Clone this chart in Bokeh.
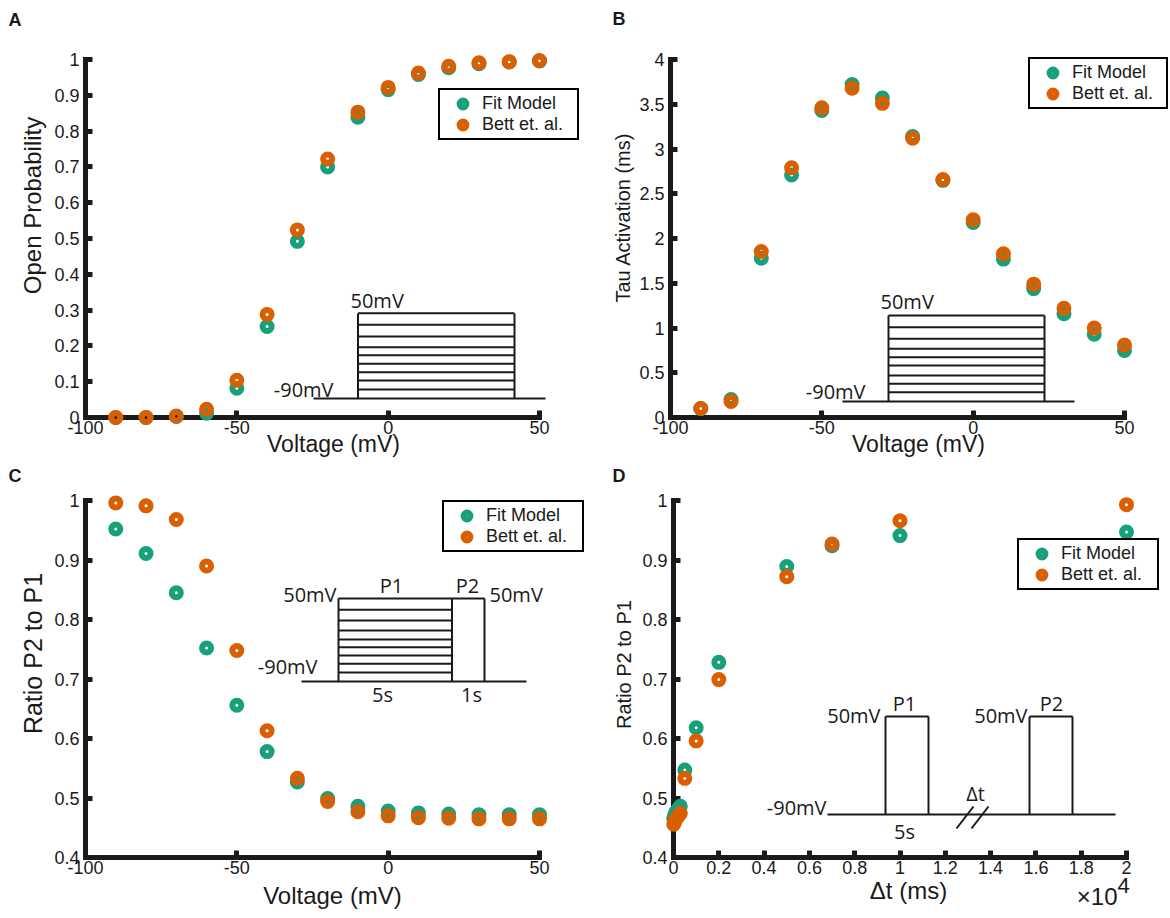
import numpy as np
from bokeh.plotting import figure
from bokeh.models import Range1d, FixedTicker, Label, Legend, LegendItem
from bokeh.layouts import column, row
from bokeh.embed import file_html
from bokeh.resources import INLINE

# ---------------- data ----------------
voltage = [-90, -80, -70, -60, -50, -40, -30, -20, -10, 0, 10, 20, 30, 40, 50]

a_fit = [0.0, 0.0, 0.003, 0.012, 0.082, 0.254, 0.492, 0.700, 0.839, 0.916, 0.958, 0.977, 0.988, 0.993, 0.996]
a_bett = [0.0, 0.0, 0.004, 0.023, 0.104, 0.288, 0.524, 0.722, 0.853, 0.922, 0.962, 0.981, 0.991, 0.994, 0.997]

b_fit = [0.10, 0.20, 1.78, 2.71, 3.43, 3.72, 3.57, 3.14, 2.65, 2.18, 1.77, 1.44, 1.16, 0.93, 0.75]
b_bett = [0.10, 0.18, 1.855, 2.79, 3.46, 3.68, 3.51, 3.12, 2.66, 2.21, 1.83, 1.49, 1.22, 1.00, 0.81]

c_fit = [0.952, 0.911, 0.845, 0.752, 0.656, 0.578, 0.527, 0.499, 0.486, 0.478, 0.475, 0.473, 0.472, 0.472, 0.472]
c_bett = [0.996, 0.991, 0.968, 0.890, 0.748, 0.613, 0.533, 0.494, 0.477, 0.470, 0.467, 0.466, 0.465, 0.465, 0.465]

d_dt = [10, 50, 100, 200, 300, 500, 1000, 2000, 5000, 7000, 10000, 20000]
d_fit = [0.466, 0.471, 0.476, 0.481, 0.486, 0.547, 0.618, 0.728, 0.889, 0.924, 0.941, 0.947]
d_bett = [0.456, 0.460, 0.464, 0.469, 0.474, 0.533, 0.596, 0.699, 0.872, 0.927, 0.966, 0.993]

volt_ticks = [-100, -50, 0, 50]
volt_tick_labels = ["-100", "-50", "0", "50"]
a_yticks = [0, 0.1, 0.2, 0.3, 0.4, 0.5, 0.6, 0.7, 0.8, 0.9, 1]
a_ytick_labels = ["0", "0.1", "0.2", "0.3", "0.4", "0.5", "0.6", "0.7", "0.8", "0.9", "1"]
b_yticks = [0, 0.5, 1, 1.5, 2, 2.5, 3, 3.5, 4]
b_ytick_labels = ["0", "0.5", "1", "1.5", "2", "2.5", "3", "3.5", "4"]
cd_yticks = [0.4, 0.5, 0.6, 0.7, 0.8, 0.9, 1]
cd_ytick_labels = ["0.4", "0.5", "0.6", "0.7", "0.8", "0.9", "1"]
d_xticks = [0, 2000, 4000, 6000, 8000, 10000, 12000, 14000, 16000, 18000, 20000]
d_xtick_labels = ["0", "0.2", "0.4", "0.6", "0.8", "1", "1.2", "1.4", "1.6", "1.8", "2"]

series_names = ["Fit Model", "Bett et. al."]

GREEN = "#17a07a"
ORANGE = "#d95f02"
INK = "#1a1a1a"
TICK_FONT = "Liberation Sans"
INSET_FONT = "Open Sans"
INSET_SIZE = 20


class Panel:
    """Maps page pixels to data coordinates for one panel (frame = whole canvas)."""

    def __init__(self, fig_box, xmap, ymap):
        self.fx0, self.fy0, self.fx1, self.fy1 = fig_box
        self.xmap = xmap
        self.ymap = ymap

    def X(self, px):
        v0, p0, v1, p1 = self.xmap
        return v0 + (px - p0) * (v1 - v0) / (p1 - p0)

    def Y(self, py):
        v0, p0, v1, p1 = self.ymap
        return v0 + (py - p0) * (v1 - v0) / (p1 - p0)


def make_fig(pn, xb, yb, xticks, xlabels, yticks, ylabels):
    p = figure(
        width=pn.fx1 - pn.fx0, height=pn.fy1 - pn.fy0,
        x_range=Range1d(pn.X(pn.fx0), pn.X(pn.fx1)),
        y_range=Range1d(pn.Y(pn.fy1), pn.Y(pn.fy0)),
        output_backend="svg", toolbar_location=None, title=None,
        min_border=0, min_border_left=0, min_border_right=0,
        min_border_top=0, min_border_bottom=0,
    )
    p.grid.visible = False
    p.outline_line_color = None
    p.background_fill_color = "white"
    p.border_fill_color = "white"
    xa, ya = p.xaxis[0], p.yaxis[0]
    xa.fixed_location = yb[0]
    ya.fixed_location = xb[0]
    xa.bounds = xb
    ya.bounds = yb
    xa.ticker = FixedTicker(ticks=xticks)
    ya.ticker = FixedTicker(ticks=yticks)
    xa.major_label_overrides = dict(zip(xticks, xlabels))
    ya.major_label_overrides = dict(zip(yticks, ylabels))
    for ax in (xa, ya):
        ax.level = "underlay"
        ax.axis_line_width = 5
        ax.axis_line_color = INK
        ax.axis_line_cap = "square"
        ax.major_tick_line_width = 5
        ax.major_tick_line_color = INK
        ax.major_tick_in = 7
        ax.major_tick_out = 0
        ax.minor_tick_line_color = None
        ax.major_label_text_font = TICK_FONT
        ax.major_label_text_font_size = "18px"
        ax.major_label_text_color = INK
    xa.major_label_standoff = 3
    ya.major_label_standoff = 6
    return p


def add_points(p, pn, xs, fit, bett, legend_box):
    r1 = p.scatter(xs, fit, size=9, line_width=6, line_color=GREEN, fill_color=None)
    r2 = p.scatter(xs, bett, size=9, line_width=6, line_color=ORANGE, fill_color=None)
    lx, ly_top, lw = legend_box
    height = 47
    pad = 3
    gw = 39
    legend = Legend(
        items=[LegendItem(label=series_names[0], renderers=[r1]),
               LegendItem(label=series_names[1], renderers=[r2])],
        location=(lx - pn.fx0, pn.fy1 - (ly_top + height)),
        margin=0, padding=pad, spacing=0,
        glyph_width=gw, glyph_height=17, label_height=17,
        label_width=lw - 2 * pad - gw, label_standoff=0,
        label_text_font=TICK_FONT, label_text_font_size="18px",
        label_text_color=INK,
        border_line_color="#000000", border_line_width=2.5, border_line_alpha=1.0,
        background_fill_color="white", background_fill_alpha=1.0,
    )
    p.add_layout(legend)


def text(p, pn, px, py, s, size, align="left", font=INSET_FONT, angle=0.0,
         bold=False, mid=False):
    # py is the text baseline unless mid=True (then it is the text centre)
    yc = py if mid else py - 0.36 * size
    p.add_layout(Label(
        x=pn.X(px), y=pn.Y(yc), text=s, text_font=font,
        text_font_size=f"{size}px", text_align=align, text_baseline="middle",
        text_color=INK, angle=angle,
        text_font_style="bold" if bold else "normal"))


def lines(p, pn, segs, width=2):
    p.segment(x0=[pn.X(s[0]) for s in segs], y0=[pn.Y(s[1]) for s in segs],
              x1=[pn.X(s[2]) for s in segs], y1=[pn.Y(s[3]) for s in segs],
              line_width=width, line_color=INK)


# ---------------- panel A ----------------
pa = Panel((0, 0, 585, 460), (-100, 85, 50, 539), (0, 417, 1, 59))
fa = make_fig(pa, (-100, 50), (0, 1), volt_ticks, volt_tick_labels, a_yticks, a_ytick_labels)
segs = [(313, 398, 545, 398), (357.5, 398, 357.5, 313), (514, 398, 514, 313)]
for yy in [312.7, 324.3, 336, 346.7, 354.7, 363.3, 371.7, 380, 389]:
    segs.append((357.5, yy, 514, yy))
lines(fa, pa, segs)
text(fa, pa, 350, 307, "50mV", INSET_SIZE)
text(fa, pa, 333, 396, "-90mV", INSET_SIZE, align="right")
add_points(fa, pa, voltage, a_fit, a_bett, (438, 93, 137))
text(fa, pa, 333, 452, "Voltage (mV)", 23, align="center", font=TICK_FONT)
text(fa, pa, 32, 205, "Open Probability", 24, align="center", font=TICK_FONT,
     angle=np.pi / 2, mid=True)
text(fa, pa, 8, 26, "A", 18, font=TICK_FONT, bold=True)

# ---------------- panel B ----------------
pb = Panel((585, 0, 1170, 460), (-100, 670, 50, 1124), (0, 417, 4, 59))
fb = make_fig(pb, (-100, 50), (0, 4), volt_ticks, volt_tick_labels, b_yticks, b_ytick_labels)
segs = [(842, 401, 1074, 401), (888, 401, 888, 315), (1044, 401, 1044, 315)]
for yy in [315, 326.7, 338.3, 348.3, 356.7, 365, 375, 383.3, 391.7]:
    segs.append((888, yy, 1044, yy))
lines(fb, pb, segs)
text(fb, pb, 880, 308, "50mV", INSET_SIZE)
text(fb, pb, 865, 398, "-90mV", INSET_SIZE, align="right")
add_points(fb, pb, voltage, b_fit, b_bett, (1028, 62, 136))
text(fb, pb, 918, 452, "Voltage (mV)", 23, align="center", font=TICK_FONT)
text(fb, pb, 622, 217, "Tau Activation (ms)", 20, align="center", font=TICK_FONT,
     angle=np.pi / 2, mid=True)
text(fb, pb, 612, 25, "B", 18, font=TICK_FONT, bold=True)

# ---------------- panel C ----------------
pc = Panel((0, 460, 585, 916), (-100, 85, 50, 539), (0.4, 857, 1, 500))
fc = make_fig(pc, (-100, 50), (0.4, 1), volt_ticks, volt_tick_labels, cd_yticks, cd_ytick_labels)
segs = [(301, 681, 526, 681), (338, 681, 338, 598), (451.5, 681, 451.5, 598),
        (484, 681, 484, 598), (338, 598, 484, 598)]
for yy in [609.3, 620, 630, 639, 646.7, 655, 663.3, 672]:
    segs.append((338, yy, 451.5, yy))
lines(fc, pc, segs)
text(fc, pc, 336, 601, "50mV", INSET_SIZE, align="right")
text(fc, pc, 391, 592, "P1", INSET_SIZE, align="center")
text(fc, pc, 467, 592, "P2", INSET_SIZE, align="center")
text(fc, pc, 489, 601, "50mV", INSET_SIZE)
text(fc, pc, 317, 673, "-90mV", INSET_SIZE, align="right")
text(fc, pc, 382, 701, "5s", INSET_SIZE, align="center")
text(fc, pc, 471, 701, "1s", INSET_SIZE, align="center")
add_points(fc, pc, voltage, c_fit, c_bett, (442, 505, 138))
text(fc, pc, 332, 904, "Voltage (mV)", 24, align="center", font=TICK_FONT)
text(fc, pc, 32, 653, "Ratio P2 to P1", 25, align="center", font=TICK_FONT,
     angle=np.pi / 2, mid=True)
text(fc, pc, 8, 482, "C", 18, font=TICK_FONT, bold=True)

# ---------------- panel D ----------------
pd_ = Panel((585, 460, 1170, 916), (0, 673, 20000, 1126), (0.4, 857, 1, 500))
fd = make_fig(pd_, (0, 20000), (0.4, 1), d_xticks, d_xtick_labels, cd_yticks, cd_ytick_labels)
segs = [(827, 814, 1115, 814),
        (885, 814, 885, 716), (928, 814, 928, 716), (885, 716, 928, 716),
        (1029, 814, 1029, 716), (1072, 814, 1072, 716), (1029, 716, 1072, 716),
        (956, 828, 973, 806), (971, 828, 988, 806)]
lines(fd, pd_, segs)
text(fd, pd_, 880, 722, "50mV", INSET_SIZE, align="right")
text(fd, pd_, 904, 710, "P1", INSET_SIZE, align="center")
text(fd, pd_, 1027, 722, "50mV", INSET_SIZE, align="right")
text(fd, pd_, 1051, 710, "P2", INSET_SIZE, align="center")
text(fd, pd_, 826, 814, "-90mV", INSET_SIZE, align="right")
text(fd, pd_, 904, 838, "5s", INSET_SIZE, align="center")
text(fd, pd_, 975, 800, "\u0394t", INSET_SIZE, align="center")
add_points(fd, pd_, d_dt, d_fit, d_bett, (1017, 543, 138))
text(fd, pd_, 908, 899, "\u0394t (ms)", 24, align="center", font=TICK_FONT)
text(fd, pd_, 1117, 905, "\u00d710", 24, align="right", font=TICK_FONT)
text(fd, pd_, 1117, 893, "4", 22, font=TICK_FONT)
text(fd, pd_, 623, 664, "Ratio P2 to P1", 20, align="center", font=TICK_FONT,
     angle=np.pi / 2, mid=True)
text(fd, pd_, 612, 482, "D", 18, font=TICK_FONT, bold=True)

layout = column(row(fa, fb), row(fc, fd))
open("out.html", "w").write(file_html(layout, INLINE))
